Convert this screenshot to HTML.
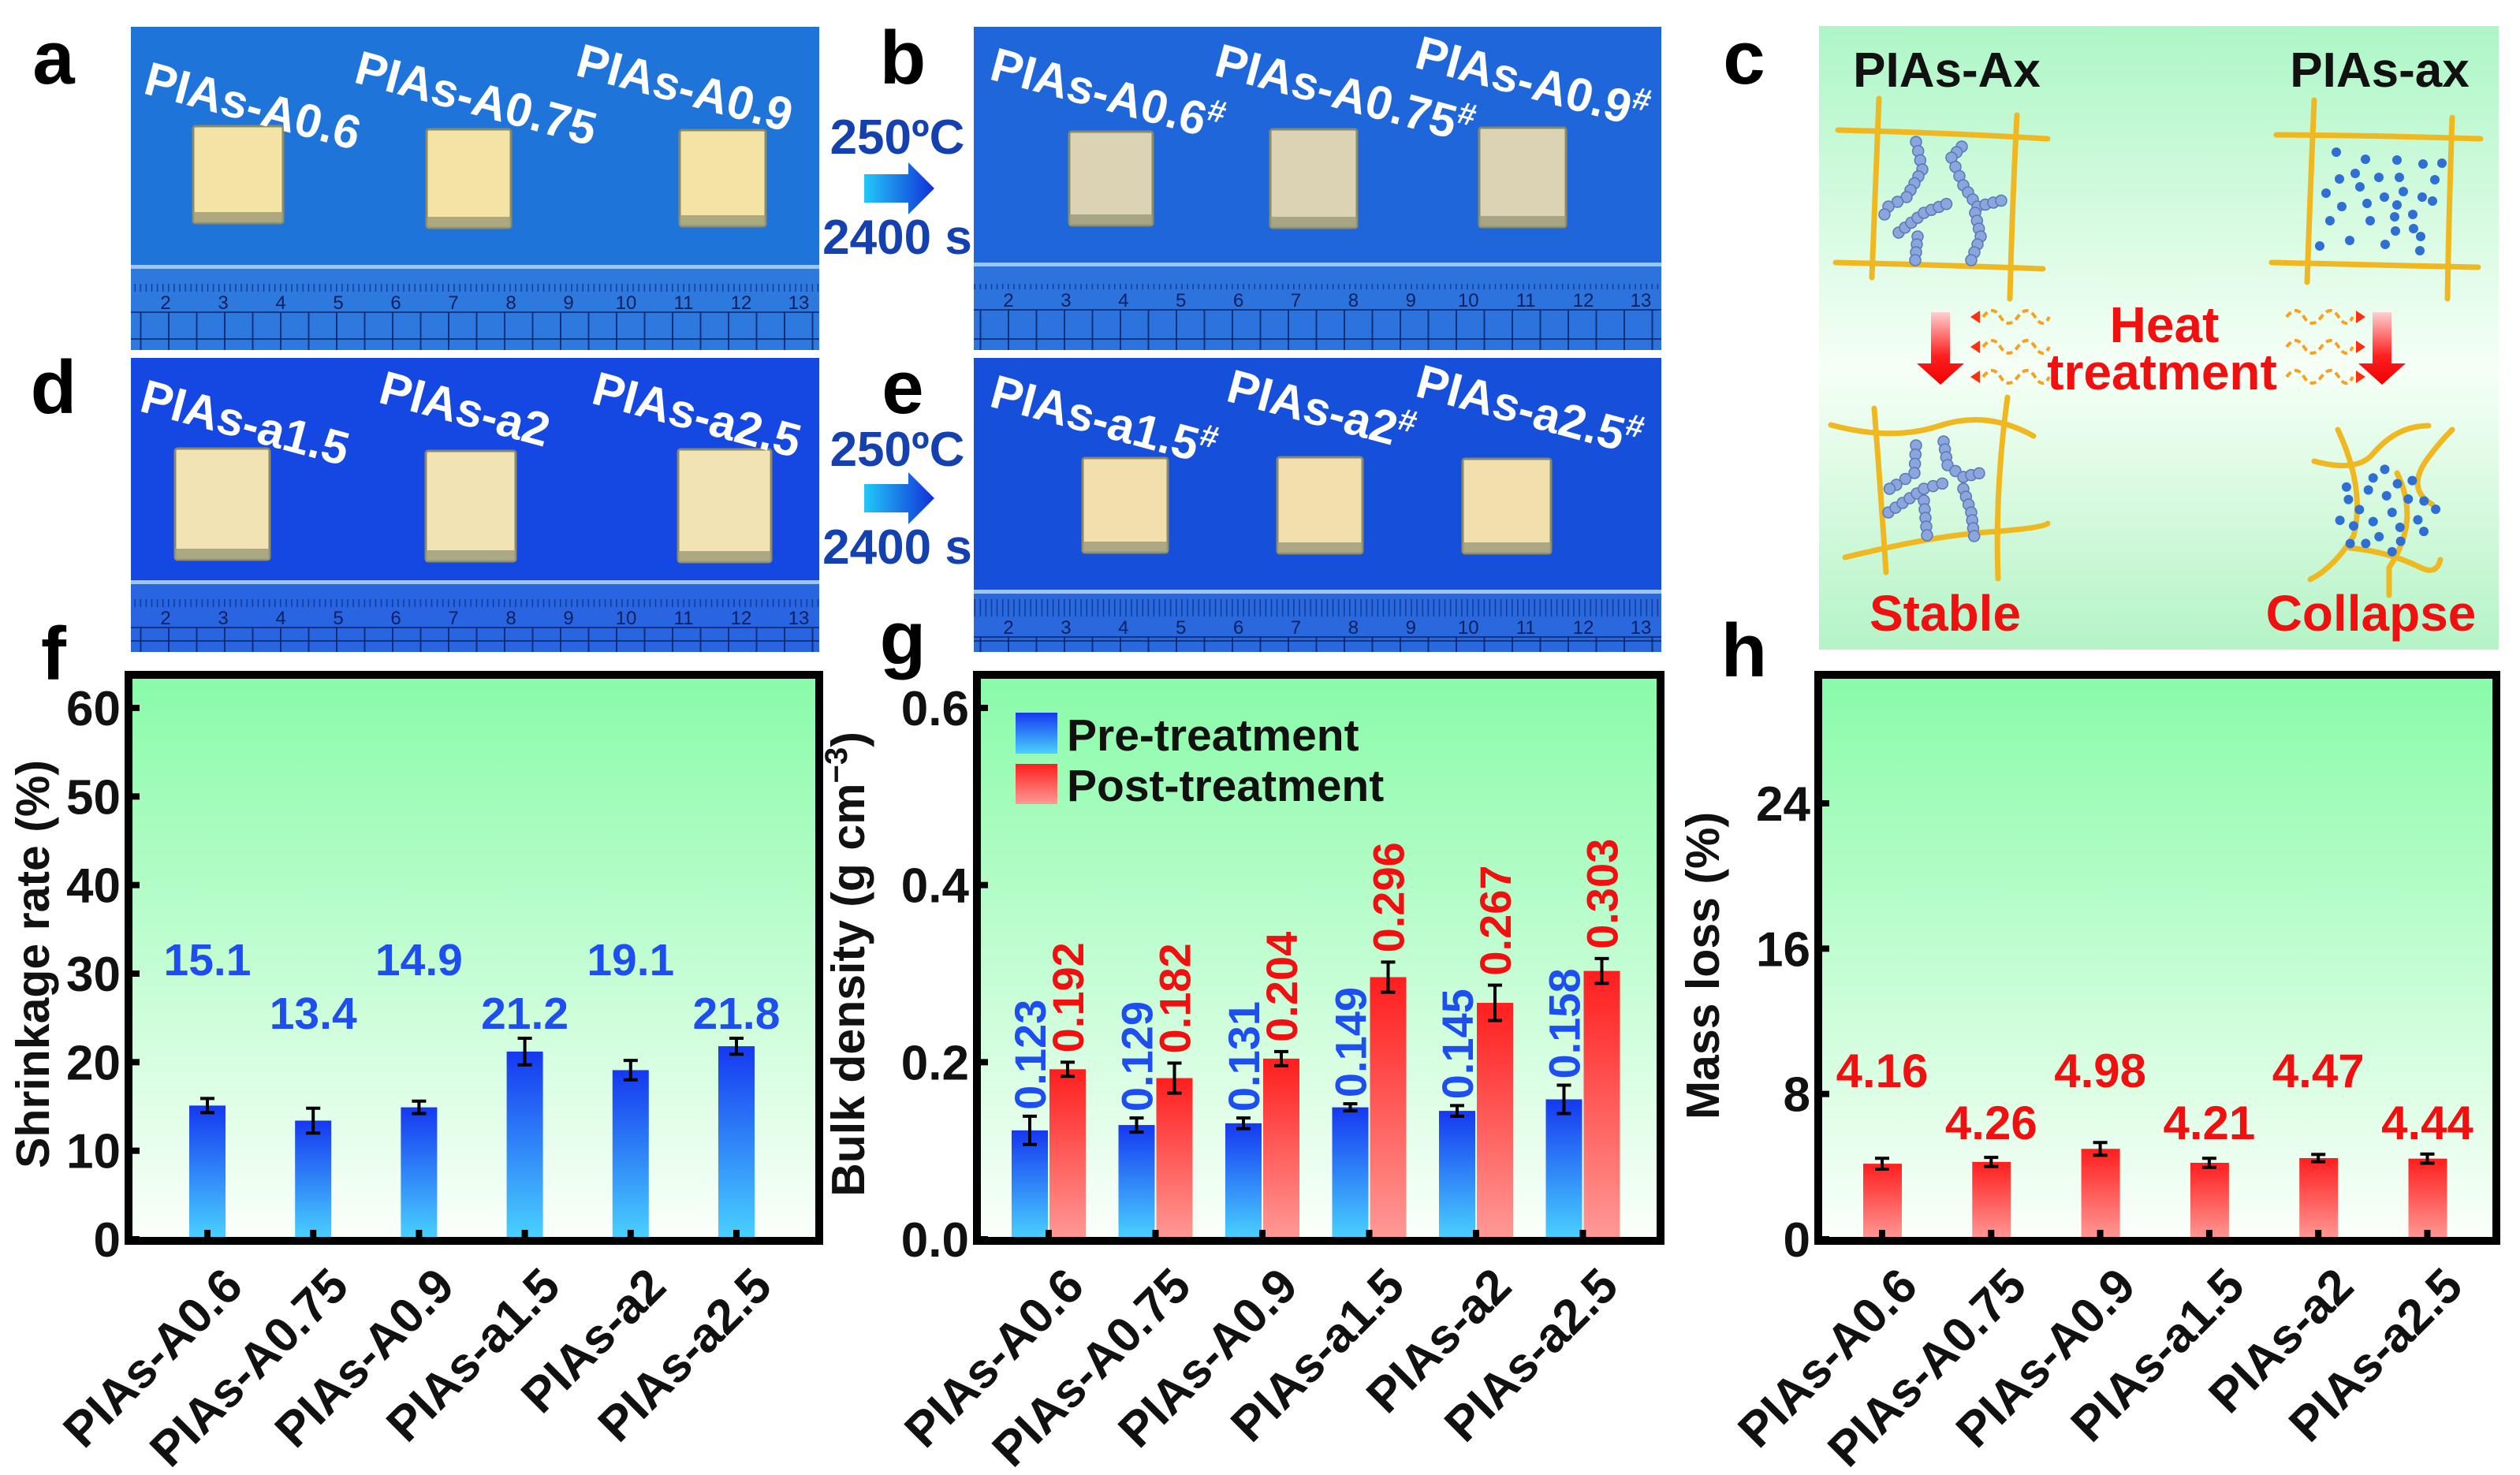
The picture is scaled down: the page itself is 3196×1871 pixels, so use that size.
<!DOCTYPE html>
<html><head><meta charset="utf-8"><style>
html,body{margin:0;padding:0;background:#fff;}
svg{display:block;font-family:"Liberation Sans",Arial,sans-serif;font-weight:bold;}
</style></head><body>
<svg id="fig" xmlns="http://www.w3.org/2000/svg" width="3196" height="1871" viewBox="0 0 3196 1871">
<defs>
<linearGradient id="bgG" x1="0" y1="0" x2="0" y2="1"><stop offset="0" stop-color="#88fba8"/><stop offset="1" stop-color="#fbfffb"/></linearGradient>
<linearGradient id="blueG" x1="0" y1="0" x2="0" y2="1"><stop offset="0" stop-color="#1538f0"/><stop offset="1" stop-color="#4ad2ff"/></linearGradient>
<linearGradient id="redG" x1="0" y1="0" x2="0" y2="1"><stop offset="0" stop-color="#ff1e1e"/><stop offset="1" stop-color="#ff9a96"/></linearGradient>
<linearGradient id="cG" x1="0" y1="0" x2="0" y2="1"><stop offset="0" stop-color="#adf6c6"/><stop offset="0.55" stop-color="#f6fff6"/><stop offset="1" stop-color="#b4f4c6"/></linearGradient>
<linearGradient id="arrG" x1="0" y1="0" x2="1" y2="0"><stop offset="0" stop-color="#22c8f8"/><stop offset="1" stop-color="#1030d8"/></linearGradient>
<linearGradient id="redArr" x1="0" y1="0" x2="0" y2="1"><stop offset="0" stop-color="#ffd0d0"/><stop offset="0.6" stop-color="#ff2020"/><stop offset="1" stop-color="#f00000"/></linearGradient>
<pattern id="rulerTicks" x="0" y="0" width="7.1" height="40" patternUnits="userSpaceOnUse"><rect x="0" y="0" width="1.6" height="22" fill="#0a2a80" opacity="0.7"/></pattern>
<pattern id="rulerGrid" x="0" y="0" width="35.5" height="40" patternUnits="userSpaceOnUse"><rect x="0" y="0" width="2" height="40" fill="#0a2060" opacity="0.8"/></pattern>
</defs>
<g id="photos"></g>
<g id="panelC"></g>
<g id="charts"></g>
<g id="letters"></g>
</svg>
<script>
// ---------------- chart data ----------------
const categories = ["PIAs-A0.6","PIAs-A0.75","PIAs-A0.9","PIAs-a1.5","PIAs-a2","PIAs-a2.5"];
const shrinkValues = [15.1,13.4,14.9,21.2,19.1,21.8];
const shrinkErrors = [0.8,1.4,0.7,1.5,1.1,0.9];
const shrinkTicks = [0,10,20,30,40,50,60];
const preDensity = [0.123,0.129,0.131,0.149,0.145,0.158];
const preDensityErr = [0.016,0.008,0.006,0.004,0.006,0.016];
const postDensity = [0.192,0.182,0.204,0.296,0.267,0.303];
const postDensityErr = [0.008,0.017,0.008,0.017,0.02,0.014];
const densityTicks = [0.0,0.2,0.4,0.6];
const densityTickLabels = ["0.0","0.2","0.4","0.6"];
const massLoss = [4.16,4.26,4.98,4.21,4.47,4.44];
const massLossErr = [0.3,0.25,0.35,0.25,0.2,0.25];
const massTicks = [0,8,16,24];

const NS="http://www.w3.org/2000/svg";
function mk(tag, attrs, parent){const e=document.createElementNS(NS,tag);for(const k in attrs)e.setAttribute(k,attrs[k]);if(parent)parent.appendChild(e);return e;}
function txt(parent, s, attrs){const e=mk('text',attrs,parent);e.textContent=s;return e;}

const charts=document.getElementById('charts');

function drawFrame(g,x0,x1){
  const r=mk('rect',{x:x0,y:856,width:x1-x0,height:718,fill:'url(#bgG)'},g);
  
  
}
function drawBorder(g,x0,x1){
  const r=mk('rect',{x:x0,y:856,width:x1-x0,height:718,fill:'none',stroke:'#000','stroke-width':10},g);
  
  
}
function errBar(g,cx,yTop,yBot){
  const e=mk('path',{d:`M${cx},${yTop}V${yBot}M${cx-9},${yTop}H${cx+9}M${cx-9},${yBot}H${cx+9}`,stroke:'#000','stroke-width':4,fill:'none'},g);
  
  
}
function yAxis(g,x0,ticks,labels,yf){
  ticks.forEach((t,i)=>{
    const y=yf(t);
    mk('line',{x1:x0,x2:x0+14,y1:y,y2:y,stroke:'#000','stroke-width':8},g);
    const l=txt(g,labels[i],{x:x0-10,y:y+22,'text-anchor':'end','font-size':62,fill:'#111'});
    
    
  });
}
function xAxis(g,xf){
  categories.forEach((c,i)=>{
    const cx=xf(i);
    mk('line',{x1:cx,x2:cx,y1:1572,y2:1560,stroke:'#000','stroke-width':8},g);
    const l=txt(g,c,{x:0,y:0,'text-anchor':'end','font-size':62,fill:'#111',transform:`translate(${cx+48},${1635}) rotate(-45)`});
    
    
  });
}
function yTitle(g,cx,cy,content){
  const t=mk('text',{x:0,y:0,'text-anchor':'middle','font-size':59,fill:'#111',transform:`translate(${cx+20},${cy}) rotate(-90)`},g);
  t.innerHTML=content;
  
  
}

// ---- chart f ----
(function(){
  const g=mk('g',{},charts);
  
  
  const x0=163,x1=1039;
  const yf=v=>1572-v*(674/60);
  const xf=i=>263+i*134.2;
  drawFrame(g,x0,x1);
  shrinkValues.forEach((v,i)=>{
    const b=mk('rect',{x:xf(i)-23,y:yf(v),width:46,height:1572-yf(v),fill:'url(#blueG)'},g);
    
    
    errBar(g,xf(i),yf(v+shrinkErrors[i]),yf(v-shrinkErrors[i]));
    const l=txt(g,v.toFixed(1),{x:xf(i),y:(i%2===0?1237:1305),'text-anchor':'middle','font-size':57,fill:'#1d4ff0'});
    
    
  });
  drawBorder(g,x0,x1);
  yAxis(g,x0,shrinkTicks,shrinkTicks.map(String),yf);
  xAxis(g,xf);
  yTitle(g,42,1223,'Shrinkage rate (%)');
})();

// ---- chart g ----
(function(){
  const g=mk('g',{},charts);
  
  
  const x0=1239,x1=2106;
  const yf=v=>1572-v*(674/0.6);
  const xf=i=>1330+i*135.5;
  drawFrame(g,x0,x1);
  preDensity.forEach((v,i)=>{
    const cx=xf(i)-24;
    const b=mk('rect',{x:cx-23,y:yf(v),width:46,height:1572-yf(v),fill:'url(#blueG)'},g);
    
    
    errBar(g,cx,yf(v+preDensityErr[i]),yf(v-preDensityErr[i]));
    const l=txt(g,v.toFixed(3),{x:0,y:0,'font-size':56,fill:'#1d4ff0',transform:`translate(${cx+20},${yf(v+preDensityErr[i])-8}) rotate(-90)`});
    
    
  });
  postDensity.forEach((v,i)=>{
    const cx=xf(i)+24;
    const b=mk('rect',{x:cx-23,y:yf(v),width:46,height:1572-yf(v),fill:'url(#redG)'},g);
    
    
    errBar(g,cx,yf(v+postDensityErr[i]),yf(v-postDensityErr[i]));
    const l=txt(g,v.toFixed(3),{x:0,y:0,'font-size':56,fill:'#f01010',transform:`translate(${cx+20},${yf(v+postDensityErr[i])-12}) rotate(-90)`});
    
    
  });
  drawBorder(g,x0,x1);
  yAxis(g,x0,densityTicks,densityTickLabels,yf);
  xAxis(g,xf);
  yTitle(g,1076,1223,'Bulk density (g cm<tspan dy="-22" font-size="40">−3</tspan><tspan dy="22">)</tspan>');
  const lg=mk('g',{},g);
  
  
  mk('rect',{x:1288,y:904,width:53,height:52,fill:'url(#blueG)'},lg);
  const t1=txt(lg,'Pre-treatment',{x:1353,y:952,'font-size':57,fill:'#111'});
  
  
  mk('rect',{x:1288,y:969,width:53,height:51,fill:'url(#redG)'},lg);
  const t2=txt(lg,'Post-treatment',{x:1353,y:1016,'font-size':57,fill:'#111'});
  
  
})();

// ---- chart h ----
(function(){
  const g=mk('g',{},charts);
  
  
  const x0=2306,x1=3166;
  const yf=v=>1572-v*(553/24);
  const xf=i=>2387+i*138.3;
  drawFrame(g,x0,x1);
  massLoss.forEach((v,i)=>{
    const b=mk('rect',{x:xf(i)-24,y:yf(v),width:49,height:1572-yf(v),fill:'url(#redG)'},g);
    
    
    errBar(g,xf(i),yf(v+massLossErr[i]),yf(v-massLossErr[i]));
    const l=txt(g,v.toFixed(2),{x:xf(i),y:(i%2===0?1379:1445),'text-anchor':'middle','font-size':60,fill:'#f01010'});
    
    
  });
  drawBorder(g,x0,x1);
  yAxis(g,x0,massTicks,massTicks.map(String),yf);
  xAxis(g,xf);
  yTitle(g,2160,1225,'Mass loss (%)');
})();

// ---------------- photos ----------------
const photos=document.getElementById('photos');
function photo(name,x0,x1,y0,y1,bg,rulerTop,samples,labels,sampleCol){
  const g=mk('g',{},photos);
  
  
  mk('rect',{x:x0,y:y0,width:x1-x0,height:y1-y0,fill:bg},g);
  mk('rect',{x:x0,y:rulerTop,width:x1-x0,height:y1-rulerTop,fill:'#3b7ee0',opacity:0.55},g);
  mk('rect',{x:x0,y:rulerTop,width:x1-x0,height:5,fill:'#9cc4f4'},g);
  mk('rect',{x:x0,y:rulerTop+12,width:x1-x0,height:22,fill:'url(#rulerTicks)'},g);
  mk('rect',{x:x0,y:rulerTop+60,width:x1-x0,height:y1-rulerTop-60,fill:'url(#rulerGrid)'},g);
  mk('line',{x1:x0,x2:x1,y1:rulerTop+60,y2:rulerTop+60,stroke:'#0a2060','stroke-width':2,opacity:0.7},g);
  mk('line',{x1:x0,x2:x1,y1:y1-14,y2:y1-14,stroke:'#0a2060','stroke-width':2,opacity:0.7},g);
  for(let k=2;k<=13;k++){
    const nx=x0+44+(k-2)*(x1-x0-70)/11;
    txt(g,String(k),{x:nx,y:rulerTop+56,'text-anchor':'middle','font-size':24,'font-weight':'normal',fill:'#0a2060'});
  }
  samples.forEach(s=>{
    const r=mk('rect',{x:s[0],y:s[1],width:s[2],height:s[3],fill:sampleCol,stroke:'#8a8a66','stroke-width':3,rx:3},g);
    
    
    mk('rect',{x:s[0],y:s[1]+s[3]-14,width:s[2],height:14,fill:'#9a9a78',opacity:0.8},g);
  });
  labels.forEach(l=>{
    const t=mk('text',{x:0,y:0,'font-size':60,fill:'#fff',transform:`translate(${l[1]},${l[2]}) rotate(15)`},g);
    t.innerHTML=l[0];
    
    
  });
}
photo('photo-a',166,1039,34,444,'#1f74da',336,
  [[245,160,114,123],[541,164,107,125],[862,165,109,122]],
  [['PIAs-A0.6',180,118],['PIAs-A0.75',447,104],['PIAs-A0.9',728,95]],'#f3e4a6');
photo('photo-d',166,1039,454,827,'#1548e2',736,
  [[222,569,120,141],[540,572,114,140],[860,570,118,143]],
  [['PIAs-a1.5',175,521],['PIAs-a2',478,510],['PIAs-a2.5',748,511]],'#f1e3b4');
photo('photo-b',1235,2107,34,444,'#1e66da',333,
  [[1356,167,106,119],[1611,164,110,125],[1876,162,110,126]],
  [['PIAs-A0.6<tspan dy="-22" font-size="40">#</tspan>',1253,100],['PIAs-A0.75<tspan dy="-22" font-size="40">#</tspan>',1538,95],['PIAs-A0.9<tspan dy="-22" font-size="40">#</tspan>',1792,85]],'#dcd2b4');
photo('photo-e',1235,2107,454,827,'#1650da',748,
  [[1373,581,108,120],[1620,580,108,122],[1855,582,112,120]],
  [['PIAs-a1.5<tspan dy="-22" font-size="40">#</tspan>',1253,515],['PIAs-a2<tspan dy="-22" font-size="40">#</tspan>',1553,508],['PIAs-a2.5<tspan dy="-22" font-size="40">#</tspan>',1793,502]],'#f2dfae');

[[195,206,322],[591,599,715]].forEach((a,i)=>{
  const g=mk('g',{},photos);
  
  
  txt(g,'250ºC',{x:1138,y:a[0],'text-anchor':'middle','font-size':62,fill:'#1440b0'});
  const h=a[1];
  mk('path',{d:`M1096,${h+15}H1152V${h}L1185,${h+33}L1152,${h+66}V${h+51}H1096Z`,fill:'url(#arrG)'},g);
  txt(g,'2400 s',{x:1138,y:a[2],'text-anchor':'middle','font-size':62,fill:'#1440b0'});
});

// ---------------- panel c ----------------
const pc=document.getElementById('panelC');
mk('rect',{x:2307,y:33,width:862,height:791,fill:'url(#cG)'},pc);
function yl(d){mk('path',{d:d,stroke:'#f0b820','stroke-width':7,fill:'none','stroke-linecap':'round'},pc);}
function beads(pts){
  for(let k=0;k<pts.length-1;k++){
    const [ax,ay]=pts[k],[bx,by]=pts[k+1];const L=Math.hypot(bx-ax,by-ay);const n=Math.max(1,Math.round(L/11));
    for(let j=0;j<n;j++){const t=j/n;mk('circle',{cx:ax+(bx-ax)*t,cy:ay+(by-ay)*t,r:7,fill:'#8aa6dc',stroke:'#5a78b8','stroke-width':1.5},pc);}
  }
}
yl('M2331,165 Q2460,168 2597,176');yl('M2328,333 Q2460,336 2591,341');yl('M2383,125 Q2378,240 2374,352');yl('M2558,146 Q2552,260 2549,379');
beads([[2430,180],[2438,215],[2418,250],[2395,262],[2385,282]]);
beads([[2488,186],[2475,200],[2490,235],[2508,262],[2548,252]]);
beads([[2408,295],[2440,270],[2478,255]]);
beads([[2432,300],[2428,340]]);
beads([[2505,270],[2512,300],[2500,330],[2490,340]]);
yl('M2322,539 Q2400,560 2460,540 T2579,553');yl('M2340,707 Q2450,680 2520,675 T2597,664');yl('M2377,518 Q2385,620 2392,726');yl('M2546,504 Q2530,620 2534,734');
beads([[2430,565],[2428,600],[2405,615],[2388,625]]);
beads([[2465,560],[2470,590],[2490,605],[2520,598]]);
beads([[2395,650],[2440,620],[2475,610]]);
beads([[2440,635],[2445,690]]);
beads([[2490,620],[2500,650],[2505,690]]);
yl('M2887,171 Q3020,172 3146,176');yl('M2881,333 Q3010,336 3143,339');yl('M2935,127 Q2930,240 2926,358');yl('M3110,149 Q3106,260 3104,379');
const dots=[[2963,193],[3000,202],[3040,203],[3073,208],[3097,207],[2967,227],[2987,220],[3017,225],[3043,225],[3088,228],[2950,245],[2993,237],[3024,250],[3048,243],[3072,250],[3085,255],[2970,262],[3002,258],[3040,260],[3060,272],[2955,280],[3006,280],[3037,275],[3061,290],[3038,293],[3070,300],[2942,312],[2980,305],[3025,310],[3069,318]];
dots.forEach(d=>mk('circle',{cx:d[0],cy:d[1],r:6,fill:'#2f6ed2'},pc));
yl('M2935,585 Q2990,600 3010,575 Q3040,540 3080,540');yl('M2965,545 Q3000,620 2985,680 Q2960,720 2930,735');
yl('M2980,695 Q3030,700 3070,720 Q3090,730 3095,710');yl('M3085,640 Q3050,620 3080,580 Q3095,560 3110,545');
yl('M3040,600 Q3070,660 3030,720 Q3030,740 3030,755');
for(let k=0;k<24;k++){const a=k*2.39,r=8+Math.sqrt(k)*11;mk('circle',{cx:3025+Math.cos(a)*r*1.1,cy:650+Math.sin(a)*r*0.9,r:6,fill:'#2f6ed2'},pc);}
[2461,3021].forEach(ax=>{mk('path',{d:`M${ax-12},396H${ax+12}V461H${ax+30}L${ax},488L${ax-30},461H${ax-12}Z`,fill:'url(#redArr)'},pc);});
[[2515,1],[2900,-1]].forEach(w=>{
  for(let r=0;r<3;r++){const y=402+r*38;const x=w[0];
    mk('path',{d:`M${x},${y} q12,-16 22,0 t22,0 t22,0 t18,0`,stroke:'#f8a020','stroke-width':4,fill:'none','stroke-dasharray':'8 5'},pc);
    const hx=w[1]>0?x-4:x+88;mk('path',{d:`M${hx},${y-8}L${hx-12*w[1]},${y}L${hx},${y+8}Z`,fill:'#ff3010'},pc);}
});
[['PIAs-Ax',2469,110,'#111'],['PIAs-ax',3018,110,'#111'],['Heat',2745,434,'#f01010'],['treatment',2742,494,'#f01010'],['Stable',2467,800,'#f01010'],['Collapse',3007,800,'#f01010']].forEach(t=>{
  const e=txt(pc,t[0],{x:t[1],y:t[2],'text-anchor':'middle','font-size':t[3]==='#111'?62:64,fill:t[3]});
  
  
});

// ---------------- panel letters ----------------
const lt=document.getElementById('letters');
[['a',68,106],['b',1145,106],['c',2212,106],['d',68,524],['e',1145,524],['f',68,862],['g',1145,842],['h',2212,858]].forEach(p=>{
  const e=txt(lt,p[0],{x:p[1],y:p[2],'text-anchor':'middle','font-size':96,fill:'#000'});
  
  
});
</script>
</body></html>
